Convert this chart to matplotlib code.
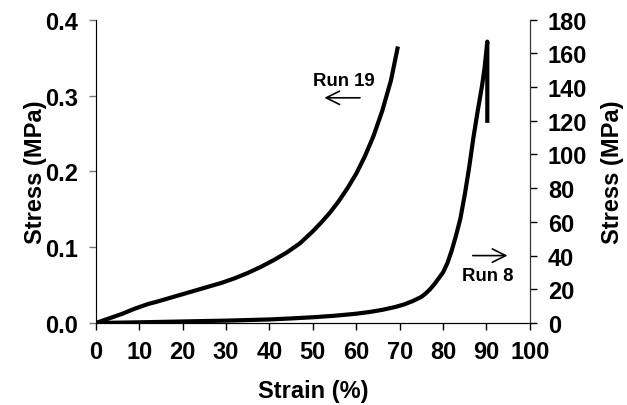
import matplotlib.pyplot as plt
from matplotlib.ticker import FormatStrFormatter

plt.rcParams['font.family'] = 'Liberation Sans'
plt.rcParams['font.weight'] = 'bold'

# Run 19 - read against left axis (MPa)
run19_strain = [0, 3, 6, 9, 12, 14, 17, 20, 23, 26, 29, 32, 35, 38, 41, 44,
                47, 50, 52, 54, 56, 58, 60, 62, 64, 66, 68, 69.5]
run19_stress = [0, 0.006, 0.012, 0.019, 0.025, 0.028, 0.033, 0.038, 0.043,
                0.048, 0.053, 0.059, 0.066, 0.074, 0.083, 0.093, 0.105, 0.121,
                0.133, 0.146, 0.161, 0.178, 0.197, 0.220, 0.247, 0.280, 0.320,
                0.362]

# Run 8 - read against right axis (MPa)
run8_strain = [0, 10, 20, 30, 40, 45, 50, 55, 60, 63, 66, 69, 71, 73, 75, 76,
               77, 78, 79, 80, 81, 82, 83, 84, 85, 86, 87, 88, 89, 89.6, 90.2,
               90.2]
run8_stress = [0, 0.4, 0.9, 1.4, 2.1, 2.7, 3.4, 4.3, 5.5, 6.5, 7.8, 9.5, 11,
               13, 15.5, 17.5, 20, 23, 26.5, 30, 35.5, 43, 52, 62, 76, 92, 110,
               126, 141, 152, 167, 120]

fig = plt.figure(figsize=(6.27, 4.06), dpi=100)
ax = fig.add_axes([0.153, 0.202, 0.692, 0.747])
ax2 = ax.twinx()

ax.plot(run19_strain, run19_stress, color='black', lw=3)
ax2.plot(run8_strain, run8_stress, color='black', lw=3)

ax.set_xlim(0, 100)
ax.set_ylim(0, 0.4)
ax2.set_ylim(0, 180)
ax.set_xticks(range(0, 101, 10))
ax.set_yticks([0, 0.1, 0.2, 0.3, 0.4])
ax2.set_yticks(range(0, 181, 20))
ax.yaxis.set_major_formatter(FormatStrFormatter('%.1f'))

for a in (ax, ax2):
    a.spines['top'].set_visible(False)
    a.tick_params(labelsize=17, length=5, width=1, direction='out', pad=8)
ax.tick_params(axis='x', pad=7)
ax.spines['left'].set_color('#777777')
ax2.spines['right'].set_color('#333333')
ax.spines['bottom'].set_color('black')
ax.tick_params(axis='y', colors='#777777', labelcolor='black')

ax.set_xlabel('Strain (%)', fontsize=17, fontweight='bold')
ax.set_ylabel('Stress (MPa)', fontsize=17, fontweight='bold')
ax2.set_ylabel('Stress (MPa)', fontsize=17, fontweight='bold')
ax.xaxis.set_label_coords(0.5, -0.224)
ax.yaxis.set_label_coords(-0.14, 0.5)
ax2.yaxis.set_label_coords(1.191, 0.5)
ax.xaxis.label.set_va('center')
ax.yaxis.label.set_va('center')
ax2.yaxis.label.set_va('center')

ax.text(57.1, 0.32, 'Run 19', fontsize=13.4, fontweight='bold', ha='center', va='center')
ax.annotate('', xy=(52, 0.297), xytext=(61.5, 0.297),
            arrowprops=dict(arrowstyle='->', lw=1.2, color='black', mutation_scale=24))
ax2.text(90.2, 28, 'Run 8', fontsize=13.4, fontweight='bold', ha='center', va='center')
ax2.annotate('', xy=(95.5, 40), xytext=(86.2, 40),
             arrowprops=dict(arrowstyle='->', lw=1.2, color='black', mutation_scale=24))

fig.savefig('out.png', dpi=100)
